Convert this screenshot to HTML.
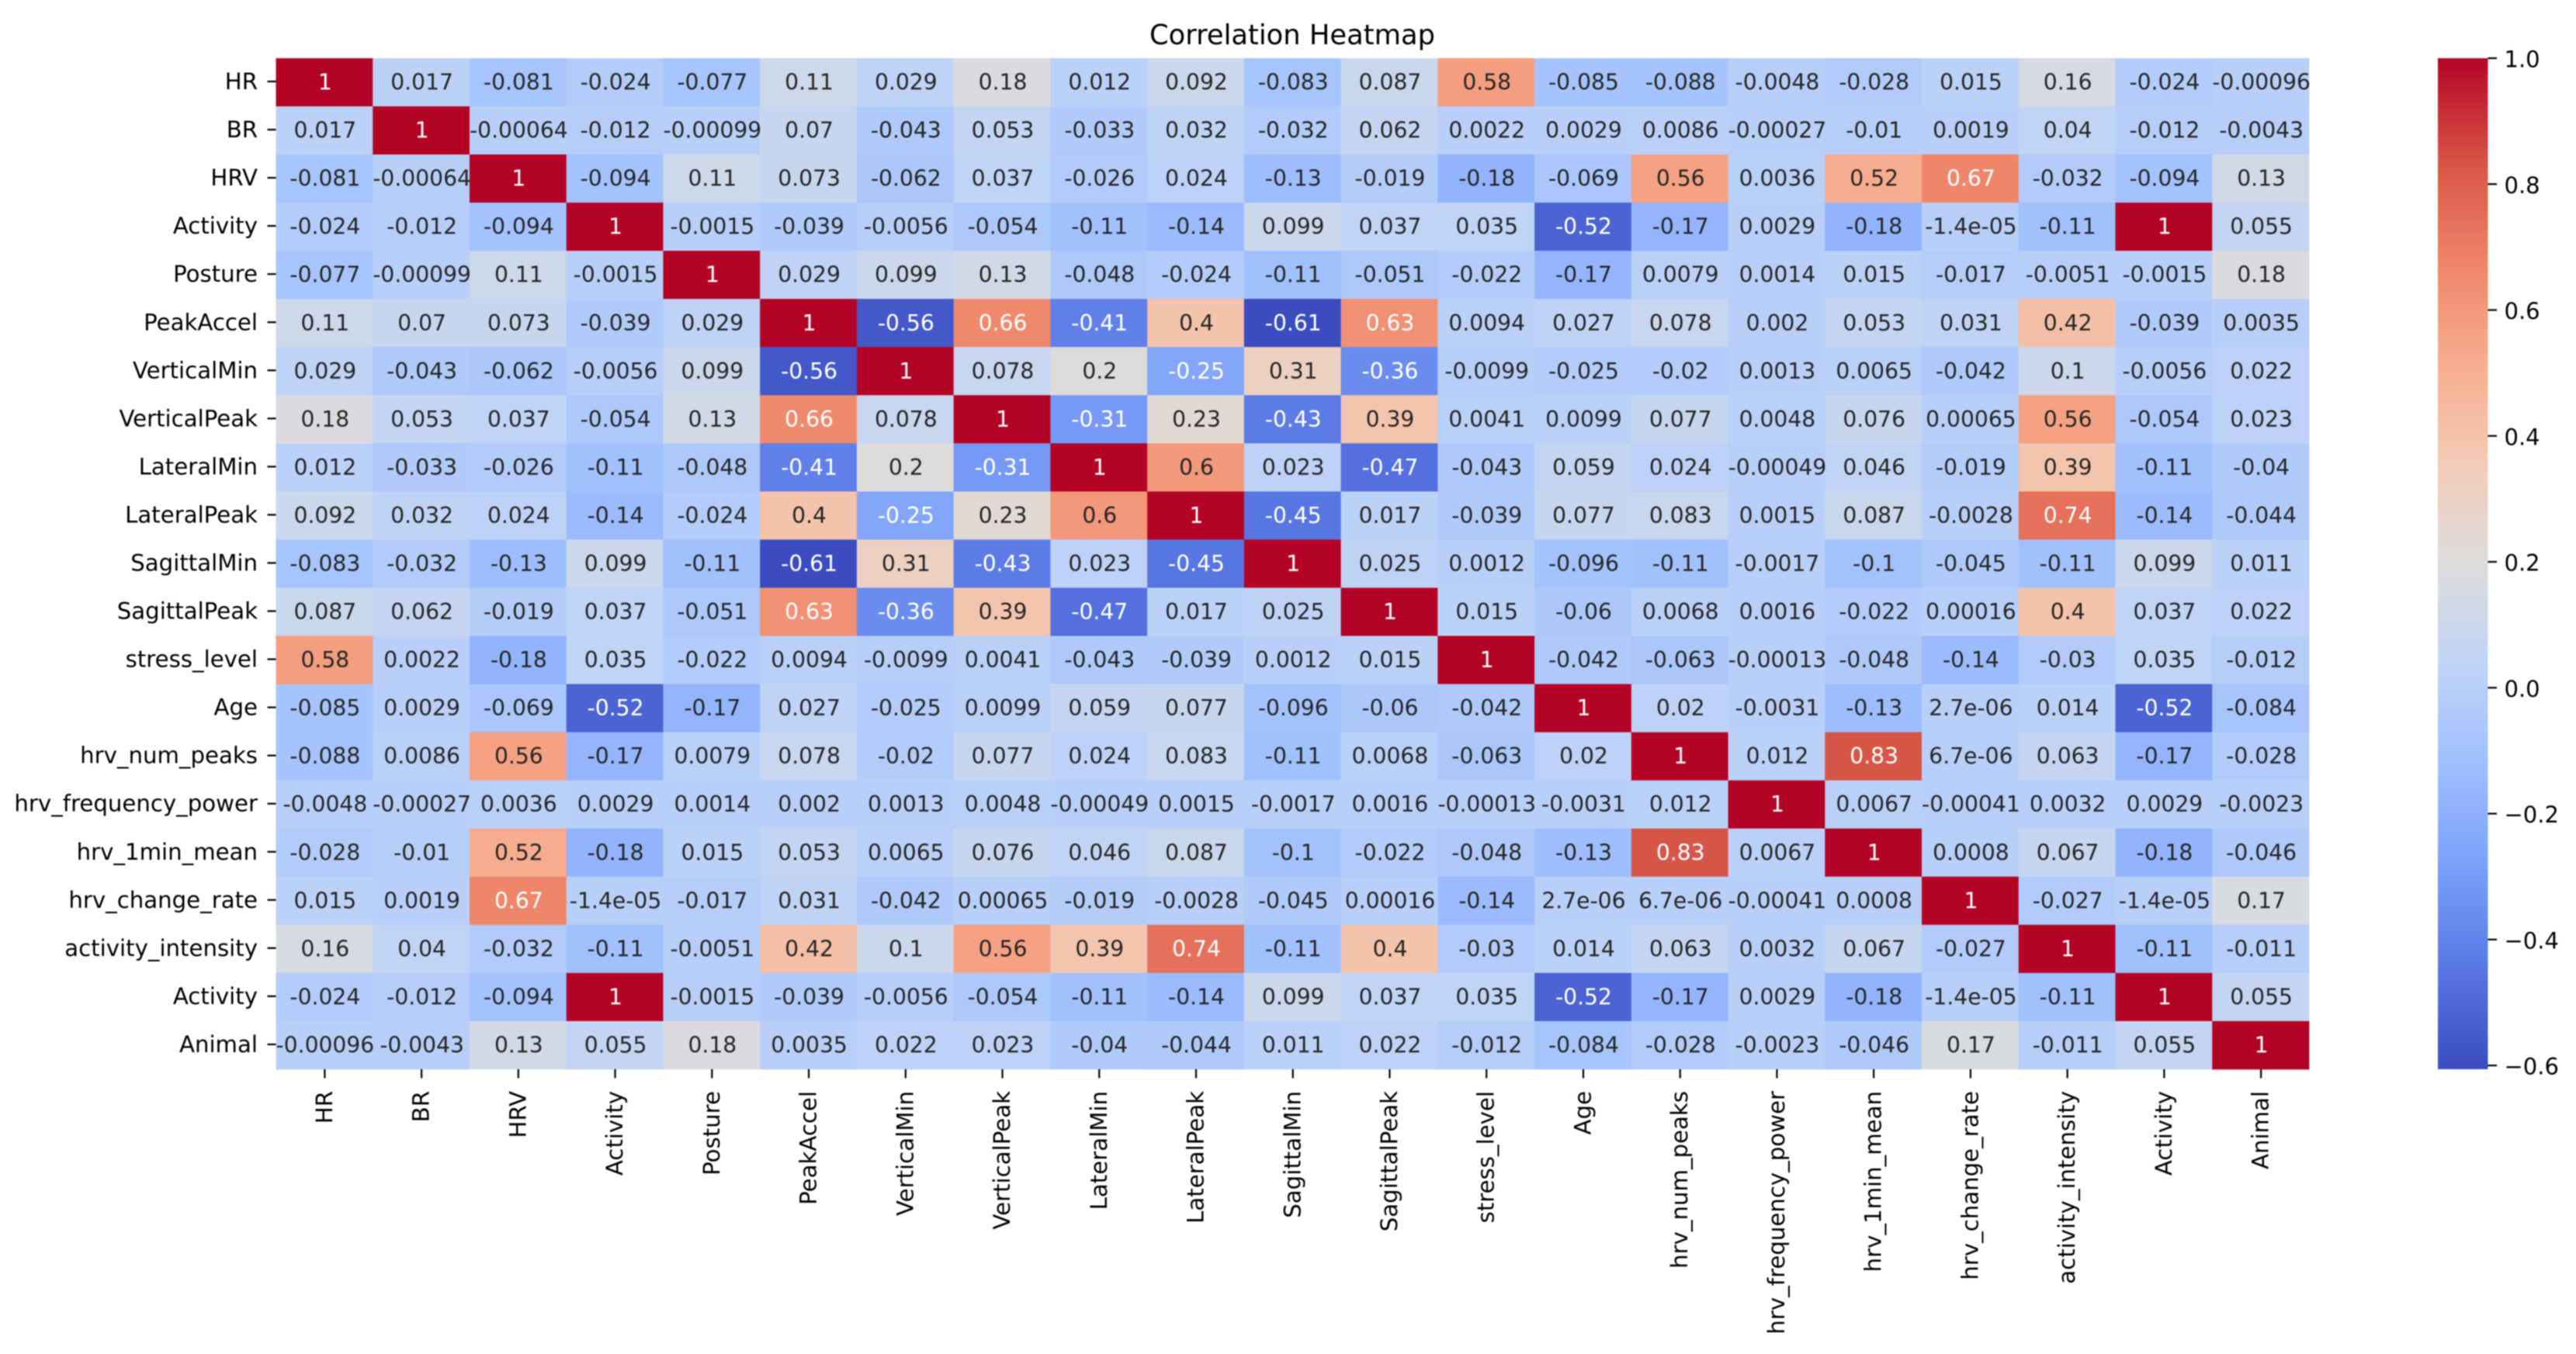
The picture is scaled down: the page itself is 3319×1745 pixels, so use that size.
<!DOCTYPE html>
<html lang="en">
<head>
<meta charset="utf-8">
<title>Correlation Heatmap</title>
<style>
html,body{margin:0;padding:0;background:#fff;}
svg{display:block;filter:blur(0.7px);}
text{font-family:"DejaVu Sans","Liberation Sans",sans-serif;}
</style>
</head>
<body>
<svg id="chart" xmlns="http://www.w3.org/2000/svg" width="3319" height="1745" viewBox="0 0 3319 1745">
<defs>
<linearGradient id="cbar-gradient" x1="0" y1="1" x2="0" y2="0"></linearGradient>
</defs>
<rect x="0" y="0" width="3319" height="1745" fill="#ffffff"></rect>
<text x="1665" y="57" font-size="35.3" text-anchor="middle" fill="#000000">Correlation Heatmap</text>
<g id="cells"></g>
<g id="annots"></g>
<g id="yaxis"></g>
<g id="xaxis"></g>
<g id="cbar"></g>
</svg>
<script>
const categories = ["HR","BR","HRV","Activity","Posture","PeakAccel","VerticalMin","VerticalPeak","LateralMin","LateralPeak","SagittalMin","SagittalPeak","stress_level","Age","hrv_num_peaks","hrv_frequency_power","hrv_1min_mean","hrv_change_rate","activity_intensity","Activity","Animal"];
const rowHR = [1,0.017,-0.081,-0.024,-0.077,0.11,0.029,0.18,0.012,0.092,-0.083,0.087,0.58,-0.085,-0.088,-0.0048,-0.028,0.015,0.16,-0.024,-0.00096];
const rowBR = [0.017,1,-0.00064,-0.012,-0.00099,0.07,-0.043,0.053,-0.033,0.032,-0.032,0.062,0.0022,0.0029,0.0086,-0.00027,-0.01,0.0019,0.04,-0.012,-0.0043];
const rowHRV = [-0.081,-0.00064,1,-0.094,0.11,0.073,-0.062,0.037,-0.026,0.024,-0.13,-0.019,-0.18,-0.069,0.56,0.0036,0.52,0.67,-0.032,-0.094,0.13];
const rowActivity = [-0.024,-0.012,-0.094,1,-0.0015,-0.039,-0.0056,-0.054,-0.11,-0.14,0.099,0.037,0.035,-0.52,-0.17,0.0029,-0.18,-1.4e-05,-0.11,1,0.055];
const rowPosture = [-0.077,-0.00099,0.11,-0.0015,1,0.029,0.099,0.13,-0.048,-0.024,-0.11,-0.051,-0.022,-0.17,0.0079,0.0014,0.015,-0.017,-0.0051,-0.0015,0.18];
const rowPeakAccel = [0.11,0.07,0.073,-0.039,0.029,1,-0.56,0.66,-0.41,0.4,-0.61,0.63,0.0094,0.027,0.078,0.002,0.053,0.031,0.42,-0.039,0.0035];
const rowVerticalMin = [0.029,-0.043,-0.062,-0.0056,0.099,-0.56,1,0.078,0.2,-0.25,0.31,-0.36,-0.0099,-0.025,-0.02,0.0013,0.0065,-0.042,0.1,-0.0056,0.022];
const rowVerticalPeak = [0.18,0.053,0.037,-0.054,0.13,0.66,0.078,1,-0.31,0.23,-0.43,0.39,0.0041,0.0099,0.077,0.0048,0.076,0.00065,0.56,-0.054,0.023];
const rowLateralMin = [0.012,-0.033,-0.026,-0.11,-0.048,-0.41,0.2,-0.31,1,0.6,0.023,-0.47,-0.043,0.059,0.024,-0.00049,0.046,-0.019,0.39,-0.11,-0.04];
const rowLateralPeak = [0.092,0.032,0.024,-0.14,-0.024,0.4,-0.25,0.23,0.6,1,-0.45,0.017,-0.039,0.077,0.083,0.0015,0.087,-0.0028,0.74,-0.14,-0.044];
const rowSagittalMin = [-0.083,-0.032,-0.13,0.099,-0.11,-0.61,0.31,-0.43,0.023,-0.45,1,0.025,0.0012,-0.096,-0.11,-0.0017,-0.1,-0.045,-0.11,0.099,0.011];
const rowSagittalPeak = [0.087,0.062,-0.019,0.037,-0.051,0.63,-0.36,0.39,-0.47,0.017,0.025,1,0.015,-0.06,0.0068,0.0016,-0.022,0.00016,0.4,0.037,0.022];
const rowStress = [0.58,0.0022,-0.18,0.035,-0.022,0.0094,-0.0099,0.0041,-0.043,-0.039,0.0012,0.015,1,-0.042,-0.063,-0.00013,-0.048,-0.14,-0.03,0.035,-0.012];
const rowAge = [-0.085,0.0029,-0.069,-0.52,-0.17,0.027,-0.025,0.0099,0.059,0.077,-0.096,-0.06,-0.042,1,0.02,-0.0031,-0.13,2.7e-06,0.014,-0.52,-0.084];
const rowNumPeaks = [-0.088,0.0086,0.56,-0.17,0.0079,0.078,-0.02,0.077,0.024,0.083,-0.11,0.0068,-0.063,0.02,1,0.012,0.83,6.7e-06,0.063,-0.17,-0.028];
const rowFreqPower = [-0.0048,-0.00027,0.0036,0.0029,0.0014,0.002,0.0013,0.0048,-0.00049,0.0015,-0.0017,0.0016,-0.00013,-0.0031,0.012,1,0.0067,-0.00041,0.0032,0.0029,-0.0023];
const row1minMean = [-0.028,-0.01,0.52,-0.18,0.015,0.053,0.0065,0.076,0.046,0.087,-0.1,-0.022,-0.048,-0.13,0.83,0.0067,1,0.0008,0.067,-0.18,-0.046];
const rowChangeRate = [0.015,0.0019,0.67,-1.4e-05,-0.017,0.031,-0.042,0.00065,-0.019,-0.0028,-0.045,0.00016,-0.14,2.7e-06,6.7e-06,-0.00041,0.0008,1,-0.027,-1.4e-05,0.17];
const rowIntensity = [0.16,0.04,-0.032,-0.11,-0.0051,0.42,0.1,0.56,0.39,0.74,-0.11,0.4,-0.03,0.014,0.063,0.0032,0.067,-0.027,1,-0.11,-0.011];
const rowActivity2 = [-0.024,-0.012,-0.094,1,-0.0015,-0.039,-0.0056,-0.054,-0.11,-0.14,0.099,0.037,0.035,-0.52,-0.17,0.0029,-0.18,-1.4e-05,-0.11,1,0.055];
const rowAnimal = [-0.00096,-0.0043,0.13,0.055,0.18,0.0035,0.022,0.023,-0.04,-0.044,0.011,0.022,-0.012,-0.084,-0.028,-0.0023,-0.046,0.17,-0.011,0.055,1];
const matrix = [rowHR,rowBR,rowHRV,rowActivity,rowPosture,rowPeakAccel,rowVerticalMin,rowVerticalPeak,rowLateralMin,rowLateralPeak,rowSagittalMin,rowSagittalPeak,rowStress,rowAge,rowNumPeaks,rowFreqPower,row1minMean,rowChangeRate,rowIntensity,rowActivity2,rowAnimal];
const colorbarTicks = [-0.6,-0.4,-0.2,0,0.2,0.4,0.6,0.8,1];
const colorbarTickLabels = ["\u22120.6","\u22120.4","\u22120.2","0.0","0.2","0.4","0.6","0.8","1.0"];
const colorDomain = [-0.606,1];

const coolwarm = ["#3b4cc0","#5977e3","#7b9ff9","#9ebeff","#c0d4f5","#dddcdc","#f2cbb7","#f7ac8e","#ee8468","#d65244","#b40426"];

const NS = "http://www.w3.org/2000/svg";
const plot = {left:355.5, right:2975, top:75, bottom:1378};
const bar = {left:3141, right:3205.5, top:75, bottom:1378};
const cellW = (plot.right-plot.left)/categories.length;
const cellH = (plot.bottom-plot.top)/categories.length;
const xScale = i => plot.left + i*cellW;
const yScale = i => plot.top + i*cellH;
const barScale = v => bar.bottom - (v-colorDomain[0])/(colorDomain[1]-colorDomain[0])*(bar.bottom-bar.top);

function hexToRgb(h){return [1,3,5].map(i=>parseInt(h.substr(i,2),16));}
function colorFor(v){
  let t=(v-colorDomain[0])/(colorDomain[1]-colorDomain[0]);
  t=Math.max(0,Math.min(1,t))*(coolwarm.length-1);
  const i=Math.min(Math.floor(t),coolwarm.length-2),f=t-i;
  const a=hexToRgb(coolwarm[i]),b=hexToRgb(coolwarm[i+1]);
  return a.map((c,k)=>Math.round(c+(b[k]-c)*f));
}
function luminance(rgb){
  const l=rgb.map(c=>{c/=255;return c<=0.03928?c/12.92:Math.pow((c+0.055)/1.055,2.4);});
  return 0.2126*l[0]+0.7152*l[1]+0.0722*l[2];
}
function fmtG2(v){
  if(v===0)return "0";
  const e=v.toExponential(1);
  const exp=parseInt(e.split("e")[1],10);
  if(exp<-4||exp>=2){
    const p=e.split("e");
    const a=Math.abs(exp);
    return p[0].replace(/\.0$/,"")+"e"+(exp<0?"-":"+")+(a<10?"0":"")+a;
  }
  return String(Number(v.toPrecision(2)));
}
function mk(tag,attrs,parent){
  const el=document.createElementNS(NS,tag);
  for(const k in attrs)el.setAttribute(k,attrs[k]);
  parent.appendChild(el);
  return el;
}

const gCells=document.getElementById("cells");
const gAnnots=document.getElementById("annots");
const gY=document.getElementById("yaxis");
const gX=document.getElementById("xaxis");
const gBar=document.getElementById("cbar");

matrix.forEach((row,r)=>{
  row.forEach((v,c)=>{
    const rgb=colorFor(v);
    const rect=mk("rect",{x:xScale(c),y:yScale(r),width:cellW+0.4,height:cellH+0.4,fill:"rgb("+rgb.join(",")+")"},gCells);
    
    
    const t=mk("text",{x:xScale(c)+cellW/2+1,y:yScale(r)+cellH/2+9.5,"font-size":"28.2","text-anchor":"middle",fill:luminance(rgb)>0.408?"#262626":"#ffffff"},gAnnots);
    
    
    t.textContent=fmtG2(v);
  });
});

categories.forEach((name,i)=>{
  const cy=yScale(i)+cellH/2-1;
  const yt=mk("line",{x1:plot.left-11,x2:plot.left,y1:cy,y2:cy,stroke:"#000","stroke-width":"2.2"},gY);
  
  
  const yl=mk("text",{x:plot.left-23.5,y:cy+10,"font-size":"29.2","text-anchor":"end",fill:"#000"},gY);
  
  
  yl.textContent=name;

  const cx=xScale(i)+cellW/2+0.5;
  const xt=mk("line",{x1:cx,x2:cx,y1:plot.bottom,y2:plot.bottom+11.5,stroke:"#000","stroke-width":"2.2"},gX);
  
  
  const xl=mk("text",{transform:"translate("+(cx+9.5)+" "+(plot.bottom+28)+") rotate(-90)","font-size":"29.2","text-anchor":"end",fill:"#000"},gX);
  
  
  xl.textContent=name;
});

const grad=document.getElementById("cbar-gradient");
coolwarm.forEach((col,i)=>{
  mk("stop",{offset:i/(coolwarm.length-1),"stop-color":col},grad);
});
const cbRect=mk("rect",{x:bar.left,y:bar.top,width:bar.right-bar.left,height:bar.bottom-bar.top,fill:"url(#cbar-gradient)"},gBar);


colorbarTicks.forEach((v,i)=>{
  const y=barScale(v);
  const tk=mk("line",{x1:bar.right,x2:bar.right+11.5,y1:y,y2:y,stroke:"#000","stroke-width":"2.2"},gBar);
  
  
  const lb=mk("text",{x:bar.right+21,y:y+11.5,"font-size":"29",fill:"#000"},gBar);
  
  
  lb.textContent=colorbarTickLabels[i];
});
</script>
</body>
</html>
